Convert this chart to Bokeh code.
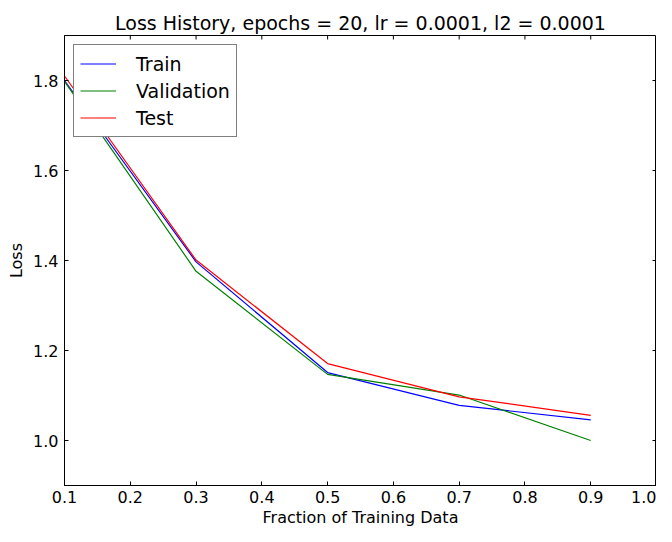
import math
from bokeh.plotting import figure
from bokeh.models import LinearAxis, FixedTicker, PrintfTickFormatter, Range1d, Legend, LegendItem, Title
from bokeh.embed import file_html
from bokeh.resources import INLINE

fractions = [0.1, 0.3, 0.5, 0.7, 0.9]
train_loss = [1.800, 1.397, 1.151, 1.078, 1.046]
validation_loss = [1.798, 1.376, 1.147, 1.101, 1.000]
test_loss = [1.810, 1.401, 1.171, 1.097, 1.056]
x_ticks = [0.1, 0.2, 0.3, 0.4, 0.5, 0.6, 0.7, 0.8, 0.9, 1.0]
y_ticks = [1.0, 1.2, 1.4, 1.6, 1.8]
x_min, x_max = 0.1, 1.0
y_min, y_max = 0.9, 1.9

FONT = "DejaVu Sans"

p = figure(width=656, height=526, output_backend="svg", toolbar_location=None,
           x_range=Range1d(x_min, x_max), y_range=Range1d(y_min, y_max),
           x_axis_location=None, y_axis_location=None,
           min_border_left=64, min_border_right=0, min_border_bottom=0, min_border_top=35)
p.title.text = "Loss History, epochs = 20, lr = 0.0001, l2 = 0.0001"
p.title.align = "center"
p.title.text_font = FONT
p.title.text_font_style = "normal"
p.title.text_font_size = "19px"
p.title.text_color = "black"
p.title.standoff = 4
p.xgrid.visible = False
p.ygrid.visible = False
p.outline_line_color = "black"
p.outline_line_width = 1
p.background_fill_color = "white"
p.border_fill_color = "white"

def style_axis(ax, ticks):
    ax.ticker = FixedTicker(ticks=ticks)
    ax.formatter = PrintfTickFormatter(format="%.1f")
    ax.major_tick_in = 4
    ax.major_tick_out = 0
    ax.minor_tick_in = 0
    ax.minor_tick_out = 0
    ax.axis_line_color = "black"
    ax.major_tick_line_color = "black"
    ax.major_label_text_font = FONT
    ax.major_label_text_font_size = "16px"
    ax.major_label_text_color = "black"
    ax.axis_label_text_font = FONT
    ax.axis_label_text_font_size = "16px"
    ax.axis_label_text_font_style = "normal"
    ax.axis_label_text_color = "black"

xb = LinearAxis()
style_axis(xb, x_ticks)
xb.major_label_standoff = 5
p.add_layout(xb, "below")

xlabel = Title(text="Fraction of Training Data", align="center", text_font=FONT,
               text_font_size="16px", text_font_style="normal", text_color="black",
               standoff=0, offset=0)
p.add_layout(xlabel, "below")

yl = LinearAxis(axis_label="Loss")
style_axis(yl, y_ticks)
yl.major_label_standoff = 6
yl.axis_label_standoff = 4
p.add_layout(yl, "left")

# mirrored inward ticks on the top and right edges (matplotlib classic style)
p.ray(x=x_ticks, y=[y_max] * len(x_ticks), length=4, length_units="screen",
      angle=-math.pi / 2, line_color="black", line_width=1)
p.ray(x=[x_max] * len(y_ticks), y=y_ticks, length=4, length_units="screen",
      angle=math.pi, line_color="black", line_width=1)

r1 = p.line(fractions, train_loss, line_color="#0000ff", line_width=1.2)
r2 = p.line(fractions, validation_loss, line_color="#008000", line_width=1.2)
r3 = p.line(fractions, test_loss, line_color="#ff0000", line_width=1.2)

legend = Legend(items=[LegendItem(label="Train", renderers=[r1]),
                       LegendItem(label="Validation", renderers=[r2]),
                       LegendItem(label="Test", renderers=[r3])],
                location="top_left")
legend.margin = 9
legend.padding = 6
legend.spacing = 2
legend.glyph_width = 36
legend.glyph_height = 25
legend.label_height = 25
legend.label_standoff = 20
legend.label_text_font = FONT
legend.label_text_font_size = "19px"
legend.label_text_color = "black"
legend.border_line_color = "black"
legend.border_line_width = 1
legend.background_fill_alpha = 1
p.add_layout(legend, "center")

open("out.html", "w").write(file_html(p, INLINE))
